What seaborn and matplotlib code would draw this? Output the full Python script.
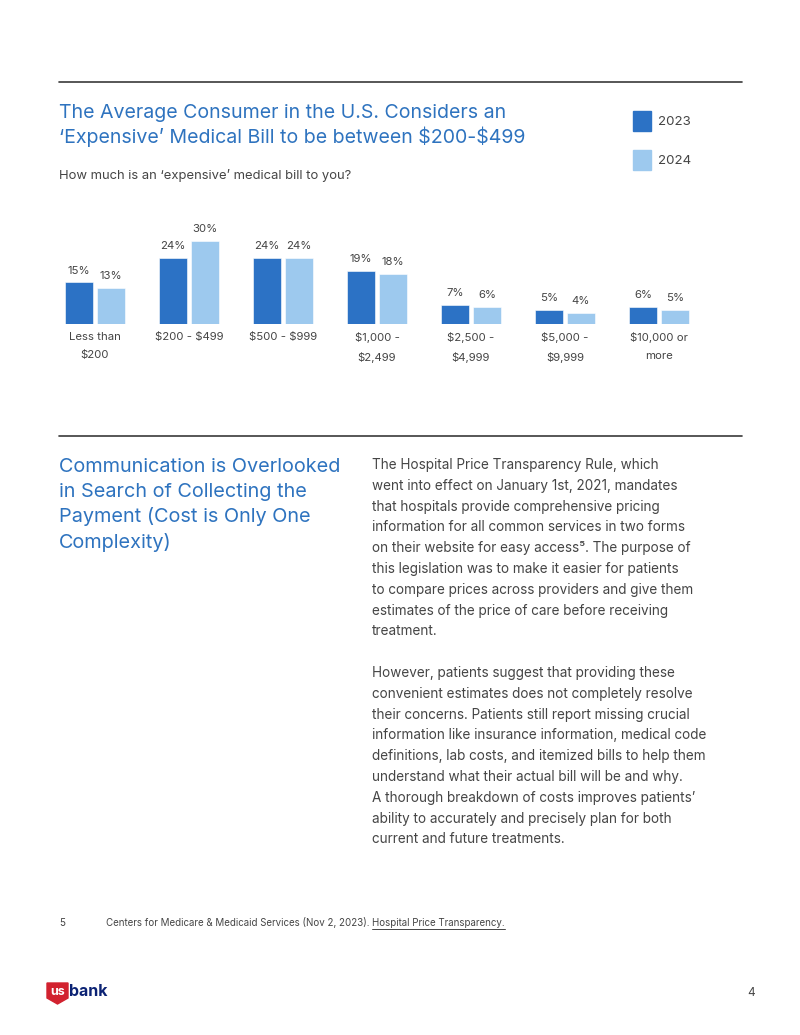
import pandas as pd
import matplotlib.pyplot as plt
import seaborn as sns
from matplotlib.patches import Polygon, Rectangle
from matplotlib.lines import Line2D

# ================= DATA =================
categories = ["Less than\n$200", "$200 - $499", "$500 - $999", "$1,000 -\n$2,499",
              "$2,500 -\n$4,999", "$5,000 -\n$9,999", "$10,000 or\nmore"]
years = ["2023", "2024"]
values_2023 = [15, 24, 24, 19, 7, 5, 6]
values_2024 = [13, 30, 24, 18, 6, 4, 5]

BLUE_DARK = "#2C72C5"
BLUE_LIGHT = "#9DC9EE"
TITLE_BLUE = "#2E73BF"
TEXT_GRAY = "#454545"

sns.set_theme(style="white")
plt.rcParams['font.family'] = ['Inter', 'DejaVu Sans']
plt.rcParams['text.parse_math'] = False

W, H = 800, 1035


def fx(px):
    return px / W


def fy(py):
    return 1 - py / H


df = pd.DataFrame({
    'category': categories * 2,
    'year': [years[0]] * len(categories) + [years[1]] * len(categories),
    'value': values_2023 + values_2024,
})

fig = plt.figure(figsize=(W / 100, H / 100), dpi=100)
fig.patch.set_facecolor('white')

# horizontal rules
for y in (82, 436):
    fig.add_artist(Line2D([fx(59), fx(742)], [fy(y), fy(y)], color="#3a3a3a", lw=1.2))

# ---------- header ----------
fig.text(fx(59), fy(113), "The Average Consumer in the U.S. Considers an",
         color=TITLE_BLUE, fontsize=14.1, va='center')
fig.text(fx(59), fy(137), "\u2018Expensive\u2019 Medical Bill to be between $200-$499",
         color=TITLE_BLUE, fontsize=14.1, va='center')
fig.text(fx(59), fy(176), "How much is an \u2018expensive\u2019 medical bill to you?",
         color=TEXT_GRAY, fontsize=9.4, va='center')

# legend squares
for y0, col, lab in ((111, BLUE_DARK, years[0]), (150, BLUE_LIGHT, years[1])):
    fig.add_artist(Rectangle((fx(633), fy(y0 + 20)), 18 / W, 20 / H,
                             transform=fig.transFigure, color=col))
    fig.text(fx(658), fy(y0 + 11), lab, color=TEXT_GRAY, fontsize=9.6, va='center')

# ---------- bar chart ----------
ax_left, ax_right = 48, 706
base_y, top_y = 324, 324 - 35 * 2.77
ax = fig.add_axes([fx(ax_left), fy(base_y), (ax_right - ax_left) / W, (base_y - top_y) / H])
sns.barplot(data=df, x='category', y='value', hue='year', order=categories,
            palette=[BLUE_DARK, BLUE_LIGHT], saturation=1, width=0.68, gap=0.125,
            edgecolor='white', linewidth=0.4, legend=False, ax=ax)
ax.set_xlim(-0.5, len(categories) - 0.5)
ax.set_ylim(0, 35)
for cont in ax.containers:
    ax.bar_label(cont, labels=[f"{int(v)}%" for v in cont.datavalues],
                 padding=5, fontsize=8.2, color=TEXT_GRAY)
ax.set_xlabel('')
ax.set_ylabel('')
ax.set_yticks([])
ax.tick_params(axis='x', length=0, pad=6, labelsize=8.2, labelcolor=TEXT_GRAY)
for lbl in ax.get_xticklabels():
    lbl.set_linespacing(1.95)
for s in ax.spines.values():
    s.set_visible(False)
ax.patch.set_alpha(0)

# ---------- second section ----------
heading = ["Communication is Overlooked", "in Search of Collecting the",
           "Payment (Cost is Only One", "Complexity)"]
for i, line in enumerate(heading):
    fig.text(fx(59), fy(467 + i * 25), line, color=TITLE_BLUE, fontsize=14.3, va='center')

para1 = ["The Hospital Price Transparency Rule, which",
         "went into effect on January 1st, 2021, mandates",
         "that hospitals provide comprehensive pricing",
         "information for all common services in two forms",
         "on their website for easy access\u2075. The purpose of",
         "this legislation was to make it easier for patients",
         "to compare prices across providers and give them",
         "estimates of the price of care before receiving",
         "treatment."]
para2 = ["However, patients suggest that providing these",
         "convenient estimates does not completely resolve",
         "their concerns. Patients still report missing crucial",
         "information like insurance information, medical code",
         "definitions, lab costs, and itemized bills to help them",
         "understand what their actual bill will be and why.",
         "A thorough breakdown of costs improves patients\u2019",
         "ability to accurately and precisely plan for both",
         "current and future treatments."]
step = 20.8
for i, line in enumerate(para1):
    fig.text(fx(372), fy(465 + i * step), line, color=TEXT_GRAY, fontsize=9.75, va='center')
for i, line in enumerate(para2):
    fig.text(fx(372), fy(465 + (i + 10) * step), line, color=TEXT_GRAY, fontsize=9.75, va='center')

# ---------- footnote ----------
fig.text(fx(59), fy(923), "5", color=TEXT_GRAY, fontsize=7.1, va='center')
t1 = fig.text(fx(106), fy(923), "Centers for Medicare & Medicaid Services (Nov 2, 2023). ",
              color=TEXT_GRAY, fontsize=7.0, va='center')
renderer = fig.canvas.get_renderer()
ext = t1.get_window_extent(renderer)
t2 = fig.text(ext.x1 / W, fy(923), "Hospital Price Transparency.",
              color=TEXT_GRAY, fontsize=7.0, va='center')
ext2 = t2.get_window_extent(renderer)
fig.add_artist(Line2D([ext2.x0 / W, ext2.x1 / W], [fy(929), fy(929)], color=TEXT_GRAY, lw=0.7))

# ---------- logo & page number ----------
shield = Polygon([(fx(47), fy(983)), (fx(68), fy(983)), (fx(68), fy(998)),
                  (fx(57.5), fy(1004)), (fx(47), fy(998))],
                 closed=True, transform=fig.transFigure, color="#D2222F")
fig.add_artist(shield)
fig.text(fx(57.5), fy(992), "us", color='white', fontsize=9, fontweight='bold',
         ha='center', va='center')
fig.text(fx(69), fy(992), "bank", color="#0C2374", fontsize=11.5, fontweight='bold', va='center')
fig.text(fx(751), fy(993), "4", color=TEXT_GRAY, fontsize=8.5, ha='center', va='center')

fig.savefig("out.png", dpi=100)
